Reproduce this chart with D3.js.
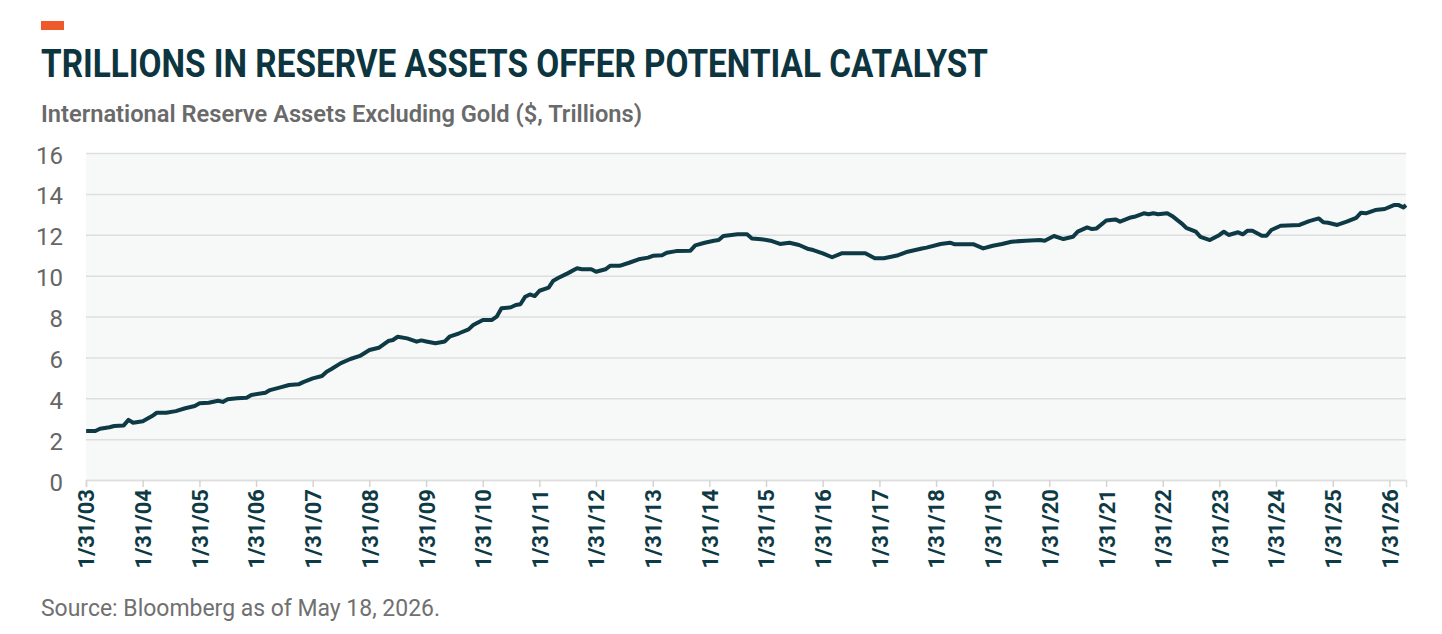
<!DOCTYPE html>
<html>
<head>
<meta charset="utf-8">
<script src="https://cdn.jsdelivr.net/npm/d3@7"></script>
<style>
  body { margin: 0; background: #fff; }
  text { font-family: Roboto, "Open Sans", sans-serif; }
</style>
</head>
<body>
<div id="chart"></div>
<script>
// monthly readings of reserve assets ex gold, $ trillions
const dates = [
  "2003-02","2003-04","2003-05","2003-07","2003-08","2003-10","2003-11","2003-12",
  "2004-02","2004-04","2004-05","2004-07","2004-09","2004-11",
  "2005-01","2005-02","2005-04","2005-06","2005-07","2005-08","2005-10","2005-12",
  "2006-01","2006-04","2006-05","2006-07","2006-09","2006-11","2006-12",
  "2007-02","2007-04","2007-05","2007-06","2007-08","2007-10","2007-12",
  "2008-02","2008-04","2008-06","2008-07","2008-08","2008-10","2008-12",
  "2009-01","2009-02","2009-04","2009-06","2009-07","2009-09","2009-11","2009-12",
  "2010-02","2010-04","2010-05","2010-06","2010-08","2010-09","2010-10","2010-11","2010-12",
  "2011-01","2011-02","2011-04","2011-05","2011-06","2011-08","2011-10","2011-11",
  "2012-01","2012-02","2012-04","2012-05","2012-07","2012-09","2012-11",
  "2013-01","2013-02","2013-04","2013-05","2013-07","2013-10","2013-11",
  "2014-01","2014-03","2014-04","2014-05","2014-08","2014-10","2014-11",
  "2015-01","2015-03","2015-05","2015-07","2015-09","2015-11","2015-12",
  "2016-02","2016-04","2016-06","2016-11",
  "2017-01","2017-03","2017-06","2017-08","2017-11","2017-12",
  "2018-03","2018-05","2018-06","2018-10","2018-12",
  "2019-02","2019-04","2019-06","2019-09","2019-12",
  "2020-01","2020-03","2020-05","2020-07","2020-08","2020-10","2020-11","2020-12",
  "2021-02","2021-04","2021-05","2021-07","2021-08","2021-10","2021-11","2021-12",
  "2022-01","2022-03","2022-04","2022-06","2022-07","2022-09","2022-10","2022-12",
  "2023-02","2023-03","2023-04","2023-06","2023-07","2023-08","2023-09","2023-11","2023-12",
  "2024-01","2024-03","2024-07","2024-09","2024-11","2024-12",
  "2025-01","2025-03","2025-05","2025-07","2025-08","2025-09","2025-11",
  "2026-01","2026-03","2026-04","2026-05","2026-05-18"
];
const values = [
  2.40,2.40,2.51,2.58,2.64,2.67,2.94,2.80,
  2.87,3.13,3.29,3.29,3.37,3.51,
  3.62,3.75,3.78,3.88,3.82,3.95,4.00,4.03,
  4.16,4.27,4.40,4.52,4.65,4.68,4.79,
  4.97,5.09,5.30,5.43,5.72,5.92,6.07,
  6.36,6.47,6.80,6.85,7.01,6.93,6.77,
  6.83,6.78,6.69,6.78,7.01,7.18,7.37,7.58,
  7.83,7.83,7.99,8.40,8.45,8.56,8.60,8.97,9.08,
  9.00,9.26,9.41,9.75,9.88,10.11,10.36,10.31,
  10.31,10.19,10.31,10.48,10.48,10.63,10.80,
  10.88,10.97,11.00,11.12,11.20,11.22,11.48,
  11.61,11.71,11.74,11.94,12.02,12.02,11.82,
  11.78,11.71,11.55,11.61,11.50,11.30,11.25,
  11.09,10.90,11.09,11.09,
  10.85,10.85,11.00,11.17,11.33,11.37,
  11.55,11.61,11.53,11.53,11.33,
  11.46,11.55,11.66,11.71,11.74,
  11.71,11.94,11.79,11.90,12.15,12.36,12.28,12.31,
  12.70,12.75,12.64,12.83,12.88,13.05,13.00,13.05,
  13.00,13.05,12.92,12.56,12.34,12.15,11.90,11.74,
  11.99,12.15,11.99,12.12,12.02,12.20,12.20,11.95,11.95,
  12.23,12.44,12.48,12.67,12.80,12.61,
  12.59,12.48,12.64,12.83,13.08,13.05,13.21,
  13.26,13.45,13.45,13.34,13.45
];
const yTicks = [0, 2, 4, 6, 8, 10, 12, 14, 16];
const tickYears = d3.range(2003, 2027);

const title = "TRILLIONS IN RESERVE ASSETS OFFER POTENTIAL CATALYST";
const subtitle = "International Reserve Assets Excluding Gold ($, Trillions)";
const source = "Source: Bloomberg as of May 18, 2026.";

const width = 1442;
const height = 634;
const margin = { top: 153, right: 36, bottom: 154, left: 86 };

const ink = "#0e3a45";

const parseMonth = d3.timeParse("%Y-%m");
const parseDay = d3.timeParse("%Y-%m-%d");
const data = dates.map((d, i) => ({ date: parseDay(d) || parseMonth(d), value: values[i] }));

const svg = d3.select("#chart")
  .append("svg")
  .attr("width", width)
  .attr("height", height);

svg.append("rect").attr("width", width).attr("height", height).attr("fill", "#fff");

// header
svg.append("rect")
  .attr("x", 41).attr("y", 21)
  .attr("width", 23).attr("height", 9)
  .attr("fill", "#ee5a2b");

svg.append("text")
  .attr("x", 41).attr("y", 77)
  .attr("font-size", 38).attr("font-weight", 700)
  .attr("fill", "#0c3540")
  .attr("textLength", 947).attr("lengthAdjust", "spacingAndGlyphs")
  .text(title);

svg.append("text")
  .attr("x", 41).attr("y", 122)
  .attr("font-size", 23).attr("font-weight", 600)
  .attr("fill", "#6a6a6a")
  .attr("textLength", 601).attr("lengthAdjust", "spacingAndGlyphs")
  .text(subtitle);

svg.append("text")
  .attr("x", 41).attr("y", 616)
  .attr("font-size", 23)
  .attr("fill", "#707070")
  .attr("textLength", 399).attr("lengthAdjust", "spacingAndGlyphs")
  .text(source);

const xScale = d3.scaleTime()
  .domain([new Date(2003, 0, 31), new Date(2026, 4, 18)])
  .range([margin.left, width - margin.right]);

const yScale = d3.scaleLinear()
  .domain([0, 16])
  .range([height - margin.bottom, margin.top]);

// plot background
svg.append("rect")
  .attr("x", margin.left).attr("y", margin.top)
  .attr("width", width - margin.right - margin.left)
  .attr("height", height - margin.bottom - margin.top)
  .attr("fill", "#f7f9f9");

// gridlines
svg.append("g")
  .attr("transform", `translate(${margin.left},0)`)
  .call(d3.axisLeft(yScale).tickValues(yTicks).tickSize(-(width - margin.right - margin.left)).tickFormat(""))
  .call(g => g.select(".domain").remove())
  .call(g => g.selectAll("line").attr("stroke", "#dedede").attr("stroke-width", 1.5));

// y labels
svg.append("g")
  .attr("transform", `translate(${margin.left},0)`)
  .call(d3.axisLeft(yScale).tickValues(yTicks).tickSize(0).tickPadding(23))
  .call(g => g.select(".domain").remove())
  .call(g => g.selectAll("text")
    .attr("font-size", 24)
    .attr("font-family", "Roboto, sans-serif")
    .attr("fill", "#666")
    .attr("dy", "0.42em"));

// x axis
const xAxis = svg.append("g")
  .attr("transform", `translate(0,${height - margin.bottom})`)
  .call(d3.axisBottom(xScale)
    .tickValues(tickYears.map(y => new Date(y, 0, 31)))
    .tickFormat(d3.timeFormat("%-m/%-d/%y"))
    .tickSize(7));

xAxis.select(".domain").attr("stroke", "#dedede").attr("stroke-width", 1.5);
xAxis.selectAll("line").attr("stroke", "#d4d4d4").attr("stroke-width", 1.5);
xAxis.selectAll("text")
  .attr("transform", "rotate(-90)")
  .attr("text-anchor", "end")
  .attr("x", -9)
  .attr("y", 0)
  .attr("dy", "0.36em")
  .attr("font-size", 22)
  .attr("font-weight", 700)
  .attr("font-family", "Roboto, sans-serif")
  .attr("fill", ink);

// series
const line = d3.line()
  .x(d => xScale(d.date))
  .y(d => yScale(d.value));

svg.append("path")
  .datum(data)
  .attr("fill", "none")
  .attr("stroke", ink)
  .attr("stroke-width", 4)
  .attr("stroke-linejoin", "round")
  .attr("d", line);
</script>
</body>
</html>
